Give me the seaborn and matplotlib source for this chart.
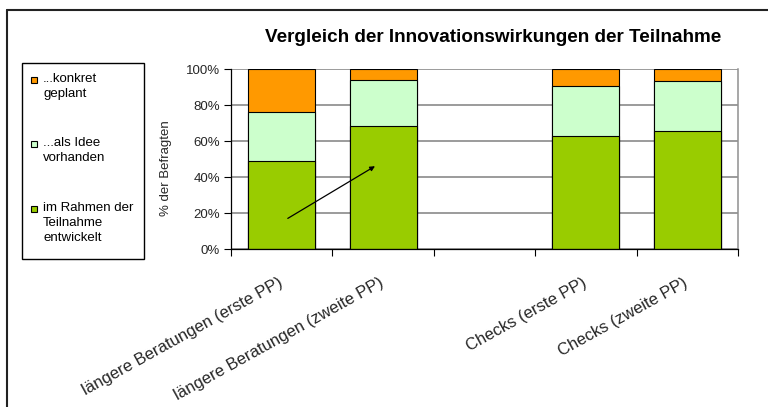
import numpy as np
import pandas as pd
import matplotlib
matplotlib.use("Agg")
import matplotlib.pyplot as plt
import matplotlib.transforms as mtransforms
from matplotlib.lines import Line2D
from matplotlib.patches import Rectangle
import seaborn as sns

# ---------------- data ----------------
categories = ["längere Beratungen (erste PP)", "längere Beratungen (zweite PP)", "",
              "Checks (erste PP)", "Checks (zweite PP)"]
entwickelt = [49, 68.5, None, 63, 65.5]     # im Rahmen der Teilnahme entwickelt
idee = [27, 25.5, None, 27.5, 28]          # ...als Idee vorhanden
geplant = [24, 6, None, 9.5, 6.5]          # ...konkret geplant
series_labels = ["...konkret\ngeplant", "...als Idee\nvorhanden", "im Rahmen der\nTeilnahme\nentwickelt"]
series_colors = ["#FF9900", "#CCFFCC", "#99CC00"]
yticks = [0, 20, 40, 60, 80, 100]
ytick_labels = [f"{v}%" for v in yticks]
title = "Vergleich der Innovationswirkungen der Teilnahme"
ylabel = "% der Befragten"

# ---------------- style ----------------
sns.set_theme(style="white")
plt.rcParams["font.family"] = ["Liberation Sans", "DejaVu Sans"]

W, H = 768, 407
fig = plt.figure(figsize=(W / 100, H / 100), dpi=100)
fig.patch.set_facecolor("white")

ax_l, ax_r, ax_t, ax_b = 231, 738, 69, 249
ax = fig.add_axes([ax_l / W, 1 - ax_b / H, (ax_r - ax_l) / W, (ax_b - ax_t) / H])

df = pd.DataFrame({"cat": categories, "e": entwickelt, "i": idee, "g": geplant}).dropna()
df["lvl2"] = df["e"] + df["i"]
df["lvl3"] = df["lvl2"] + df["g"]

for col, color in [("lvl3", series_colors[0]), ("lvl2", series_colors[1]), ("e", series_colors[2])]:
    sns.barplot(data=df, x="cat", y=col, order=categories, color=color, saturation=1,
                edgecolor="black", linewidth=0.8, width=0.66, errorbar=None, ax=ax)

ax.set_xlim(-0.5, len(categories) - 0.5)
ax.set_ylim(0, 100)
ax.set_yticks(yticks)
ax.set_yticklabels(ytick_labels)
ax.yaxis.grid(True, color="#808080", linewidth=1.1)
ax.xaxis.grid(False)
ax.set_axisbelow(True)

ax.spines["top"].set_visible(False)
ax.spines["right"].set_color("#909090")
ax.spines["right"].set_linewidth(1.1)
ax.spines["left"].set_color("black")
ax.spines["left"].set_linewidth(0.9)
ax.spines["bottom"].set_color("black")
ax.spines["bottom"].set_linewidth(0.9)

ax.tick_params(axis="y", length=5, width=0.8, color="black", direction="out",
               pad=3, labelsize=9.5, left=True)
ax.set_xticks(range(len(categories)))
ax.set_xticklabels(categories)
ax.set_xticks(np.arange(-0.5, len(categories), 1), minor=True)
ax.tick_params(axis="x", which="major", length=0, pad=19, labelsize=12)
ax.tick_params(axis="x", which="minor", length=5, width=0.8, color="black",
               direction="out", bottom=True)
offset = mtransforms.ScaledTranslation(-4 / 100, 0, fig.dpi_scale_trans)
for lbl in ax.get_xticklabels():
    lbl.set_rotation(29)
    lbl.set_ha("right")
    lbl.set_va("top")
    lbl.set_rotation_mode("anchor")
    lbl.set_transform(lbl.get_transform() + offset)

ax.set_xlabel("")
ax.set_ylabel(ylabel, fontsize=9.5)
ax.yaxis.set_label_coords((172 - ax_l) / (ax_r - ax_l), (ax_b - 168) / (ax_b - ax_t))

# arrow annotation
ax.annotate("", xy=(0.92, 46), xytext=(0.06, 17),
            arrowprops=dict(arrowstyle="-|>", color="black", lw=0.9,
                            mutation_scale=7, shrinkA=0, shrinkB=0))

# title
fig.text(493 / W, 1 - 37 / H, title, ha="center", va="center",
         fontsize=13.6, fontweight="bold", color="black")

# legend (manual, Excel style)
fig.add_artist(Rectangle((22 / W, 1 - 259 / H), (144 - 22) / W, (259 - 63) / H,
                         transform=fig.transFigure, fill=False, edgecolor="black", lw=1))
entry_tops = [73, 137, 202]
for top, lab, col in zip(entry_tops, series_labels, series_colors):
    fig.add_artist(Rectangle((31 / W, 1 - (top + 10) / H), 6 / W, 6 / H,
                             transform=fig.transFigure, facecolor=col,
                             edgecolor="black", lw=0.8))
    fig.text(43 / W, 1 - top / H, lab, ha="left", va="top", fontsize=9.5,
             linespacing=1.36, color="black")

# outer border of the chart area
fig.add_artist(Line2D([7 / W, 7 / W], [0, 1 - 10 / H], transform=fig.transFigure,
                      color="#222222", lw=1.5))
fig.add_artist(Line2D([7 / W, 1], [1 - 10 / H, 1 - 10 / H], transform=fig.transFigure,
                      color="#222222", lw=1.5))

fig.savefig("out.png", dpi=100)
